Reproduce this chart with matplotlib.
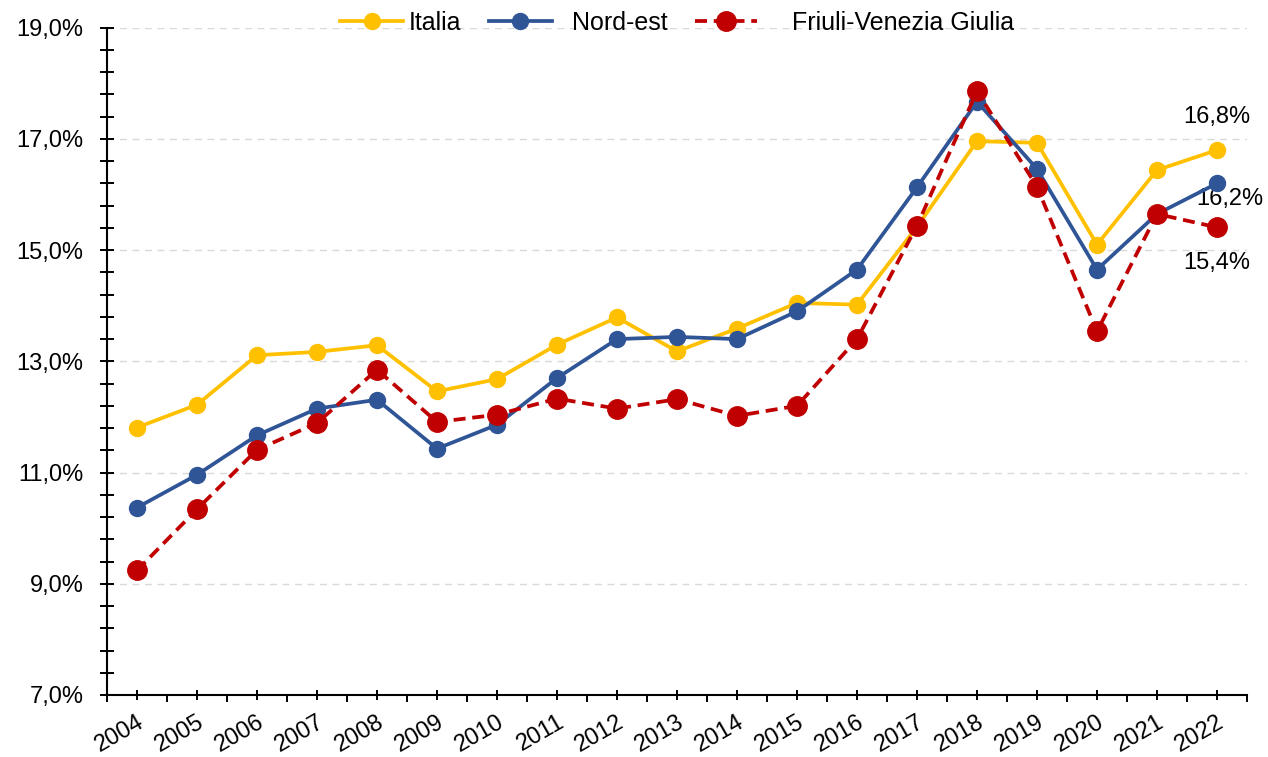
import numpy as np
import matplotlib.pyplot as plt
import matplotlib as mpl
from matplotlib.ticker import FuncFormatter

mpl.rcParams.update({"font.family": ["Liberation Sans", "DejaVu Sans"]})

YELLOW, BLUE, RED = "#FFC000", "#2F5597", "#C00000"

years = [str(y) for y in range(2004, 2023)]
italia = [11.81, 12.22, 13.11, 13.17, 13.29, 12.46, 12.68, 13.30, 13.79, 13.18,
          13.59, 14.05, 14.02, 15.42, 16.96, 16.93, 15.10, 16.44, 16.80]
nord_est = [10.37, 10.96, 11.67, 12.15, 12.31, 11.43, 11.86, 12.70, 13.40, 13.44,
            13.40, 13.90, 14.65, 16.13, 17.67, 16.46, 14.65, 15.65, 16.20]
fvg = [9.24, 10.34, 11.41, 11.89, 12.85, 11.91, 12.04, 12.33, 12.15, 12.32,
       12.02, 12.20, 13.40, 15.44, 17.86, 16.14, 13.54, 15.65, 15.41]

fig = plt.figure(figsize=(12.68, 7.57), dpi=100)
ax = fig.add_axes([107 / 1268, 1 - 695 / 757, 1140 / 1268, 667.3 / 757])
x = np.arange(len(years))

ax.plot(x, italia, color=YELLOW, lw=2.7, marker="o", ms=11.5, label="Italia", zorder=3)
ax.plot(x, nord_est, color=BLUE, lw=2.7, marker="o", ms=11.5, label="  Nord-est", zorder=4)
ax.plot(x, fvg, color=RED, lw=2.7, ls=(0, (3.2, 1.8)), marker="o", ms=14,
        label="    Friuli-Venezia Giulia", zorder=5)

# end-point labels
fmt = lambda v: f"{v:.1f}%".replace(".", ",")
ax.annotate(fmt(italia[-1]), (x[-1], italia[-1]), xytext=(0, 16), textcoords="offset points",
            ha="center", va="bottom", fontsize=17)
ax.annotate(fmt(nord_est[-1]), (x[-1], nord_est[-1]), xytext=(9.5, -11), textcoords="offset points",
            ha="center", va="center", fontsize=17)
ax.annotate(fmt(fvg[-1]), (x[-1], fvg[-1]), xytext=(0, -18), textcoords="offset points",
            ha="center", va="top", fontsize=17)

ax.set_xlim(-0.5, len(years) - 0.5)
ax.set_ylim(7, 19)
ax.set_xticks(x)
ax.set_xticklabels(years, rotation=30, ha="right", rotation_mode="anchor", fontsize=17)
ax.set_xticks(np.arange(-0.5, len(years), 1), minor=True)
ax.set_yticks(np.arange(7, 19.01, 2))
ax.set_yticks(np.arange(7, 19.01, 0.4), minor=True)
ax.yaxis.set_major_formatter(FuncFormatter(lambda v, p: fmt(v)))
ax.tick_params(axis="y", which="both", direction="inout", length=9.5, width=1.4, labelsize=17, pad=12)
ax.tick_params(axis="x", which="major", direction="inout", length=7, width=1.4, pad=8)
ax.tick_params(axis="x", which="minor", direction="out", length=5, width=1.4)

ax.grid(axis="y", which="major", ls=(0, (5, 4)), color="#d9d9d9", lw=1)
ax.set_axisbelow(True)
for s in ("top", "right"):
    ax.spines[s].set_visible(False)
ax.spines["left"].set_linewidth(1.5)
ax.spines["bottom"].set_linewidth(1.5)

ax.legend(loc="center", bbox_to_anchor=(0.5, 1.007), ncol=3, frameon=False, fontsize=18,
          handlelength=2.5, columnspacing=1.1, handletextpad=0.25, borderaxespad=0)

fig.savefig("out.png", dpi=100, facecolor="white")
